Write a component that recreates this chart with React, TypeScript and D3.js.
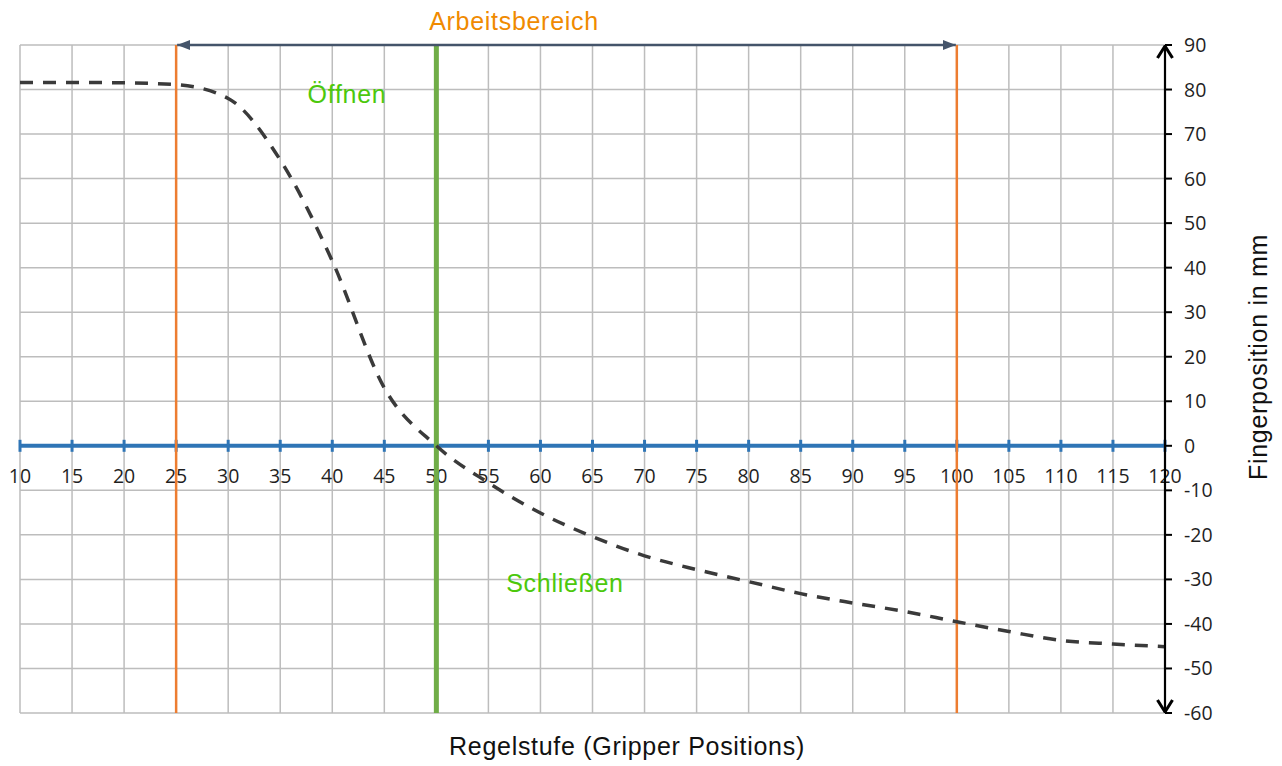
import { scaleLinear, line, curveMonotoneX } from "d3"

// Regelstufe (gripper positions) vs finger position in mm
const positions = [10, 15, 20, 25, 30, 35, 40, 45, 50, 55, 60, 65, 70, 75, 80, 85, 90, 95, 100, 105, 110, 115, 120]
const fingerMm = [81.6, 81.6, 81.5, 81.1, 78, 64.2, 41.5, 13, 0, -8.3, -15.1, -20.4, -24.7, -27.8, -30.5, -33.2, -35.3, -37.2, -39.5, -41.7, -43.7, -44.5, -45.1]

const xTicks = [10, 15, 20, 25, 30, 35, 40, 45, 50, 55, 60, 65, 70, 75, 80, 85, 90, 95, 100, 105, 110, 115, 120]
const yTicks = [90, 80, 70, 60, 50, 40, 30, 20, 10, 0, -10, -20, -30, -40, -50, -60]

const rangeStart = 25
const rangeEnd = 100
const switchPoint = 50

const W = 1282
const H = 766

const App = () => {
  const x = scaleLinear().domain([10, 120]).range([20, 1165])
  const y = scaleLinear().domain([90, -60]).range([45, 713])

  const pts = positions.map((p, i) => [p, fingerMm[i]] as [number, number])
  const curve = line<[number, number]>()
    .x(d => x(d[0]))
    .y(d => y(d[1]))
    .curve(curveMonotoneX)

  const tickFont = "'Open Sans', sans-serif"
  const labelFont = "'Liberation Sans', Arial, sans-serif"

  return (
    <div style={{ position: "fixed", left: 0, top: 0, width: W, height: H, background: "#fff" }}>
      <svg width={W} height={H} viewBox={`0 0 ${W} ${H}`}>
        <defs>
          <marker id="tri" viewBox="0 0 10 10" refX="10" refY="5" markerWidth="13" markerHeight="10" orient="auto-start-reverse" markerUnits="userSpaceOnUse" preserveAspectRatio="none">
            <path d="M0,0 L10,5 L0,10 z" fill="#44546A" />
          </marker>
          <marker id="chev" viewBox="0 0 12 12" refX="11" refY="6" markerWidth="16" markerHeight="18" orient="auto-start-reverse" markerUnits="userSpaceOnUse" preserveAspectRatio="none">
            <path d="M2,1 L11,6 L2,11" fill="none" stroke="#000" strokeWidth="2" />
          </marker>
        </defs>

        {/* grid */}
        {xTicks.map(t => (
          <line key={"gx" + t} x1={x(t)} x2={x(t)} y1={y(90)} y2={y(-60)} stroke="#bdbdbd" strokeWidth={1.5} />
        ))}
        {yTicks.map(t => (
          <line key={"gy" + t} x1={x(10)} x2={x(120)} y1={y(t)} y2={y(t)} stroke="#bdbdbd" strokeWidth={1.5} />
        ))}

        {/* horizontal axis at 0 */}
        <line x1={x(10)} x2={x(120)} y1={y(0)} y2={y(0)} stroke="#2E75B6" strokeWidth={4} />
        {xTicks.map(t => (
          <line key={"tx" + t} x1={x(t)} x2={x(t)} y1={y(0) - 6} y2={y(0) + 6} stroke="#2E75B6" strokeWidth={3} />
        ))}
        {xTicks.map(t => (
          <text key={"lx" + t} x={x(t)} y={y(0) + 37} textAnchor="middle" fontFamily={tickFont} fontSize={19.5} fill="#1f1f1f">
            {t}
          </text>
        ))}

        {/* working range and switch point */}
        <line x1={x(rangeStart)} x2={x(rangeStart)} y1={y(90)} y2={y(-60)} stroke="#ED7D31" strokeWidth={2.5} />
        <line x1={x(rangeEnd)} x2={x(rangeEnd)} y1={y(90)} y2={y(-60)} stroke="#ED7D31" strokeWidth={2.5} />
        <line x1={x(switchPoint)} x2={x(switchPoint)} y1={y(90)} y2={y(-60)} stroke="#70AD47" strokeWidth={5} />

        <line x1={x(rangeStart) + 1} x2={x(rangeEnd) - 1} y1={y(90)} y2={y(90)} stroke="#44546A" strokeWidth={2.5} markerStart="url(#tri)" markerEnd="url(#tri)" />

        {/* curve */}
        <path d={curve(pts) ?? ""} fill="none" stroke="#3a3a3a" strokeWidth={3.5} strokeDasharray="13 10" />

        {/* vertical axis */}
        <line x1={x(120)} x2={x(120)} y1={y(90) + 1} y2={y(-60) - 1} stroke="#000" strokeWidth={2.2} markerStart="url(#chev)" markerEnd="url(#chev)" />
        {yTicks.map(t => (
          <line key={"ty" + t} x1={x(120)} x2={x(120) + 7} y1={y(t)} y2={y(t)} stroke="#000" strokeWidth={2} />
        ))}
        {yTicks.map(t => (
          <text key={"ly" + t} x={x(120) + 19} y={y(t)} dy="0.36em" fontFamily={tickFont} fontSize={19.5} fill="#1f1f1f">
            {t}
          </text>
        ))}

        {/* labels */}
        <text x={514} y={30} textAnchor="middle" fontFamily={labelFont} fontSize={25} letterSpacing={0.7} fill="#F08A00">Arbeitsbereich</text>
        <text x={347} y={103} textAnchor="middle" fontFamily={labelFont} fontSize={25} letterSpacing={0.7} fill="#4CC80C">Öffnen</text>
        <text x={565} y={592} textAnchor="middle" fontFamily={labelFont} fontSize={25} letterSpacing={0.7} fill="#4CC80C">Schließen</text>

        <text x={627} y={755} textAnchor="middle" fontFamily={labelFont} fontSize={25} letterSpacing={0.7} fill="#111">Regelstufe (Gripper Positions)</text>
        <text transform={`translate(1267, 357) rotate(-90)`} textAnchor="middle" fontFamily={labelFont} fontSize={25} letterSpacing={0.7} fill="#111">Fingerposition in mm</text>
      </svg>
    </div>
  )
}

export default App
